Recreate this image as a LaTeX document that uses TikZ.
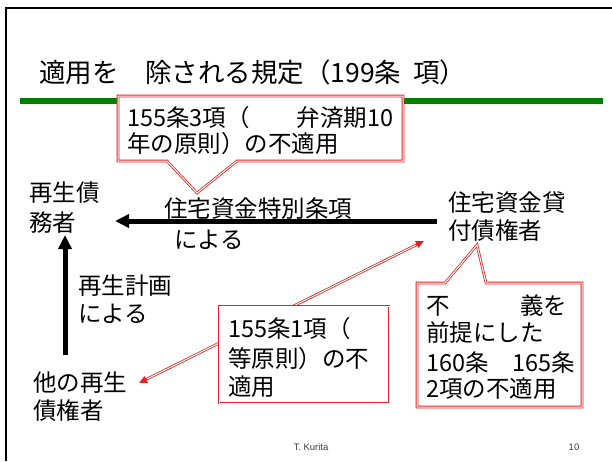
\documentclass[tikz,border=0pt]{standalone}
\usepackage{fontspec}
\setmainfont{Noto Sans CJK JP}
\newfontfamily\latfont{Liberation Sans}
\usetikzlibrary{arrows.meta}
\definecolor{slidegreen}{RGB}{0,128,0}
\definecolor{callred}{RGB}{225,35,35}
\definecolor{footgray}{RGB}{60,60,60}
\begin{document}
\begin{tikzpicture}[x=1pt,y=-1pt,
  txt/.style={anchor=base west, inner sep=0pt, font=\fontsize{23.5}{28}\selectfont},
  ttl/.style={anchor=base west, inner sep=0pt, font=\fontsize{26.5}{30}\selectfont},
  foot/.style={anchor=center, inner sep=0pt, text=footgray, font=\latfont\fontsize{9.5}{11}\selectfont},
  bigarrow/.style={line width=5pt, -{Triangle[length=14pt,width=13pt]}},
  calloutline/.style={draw=callred, line width=0.8pt, double=white, double distance=1pt, fill=white, line join=miter},
  redtips/.style={draw=callred, line width=2.6pt, {Triangle[length=8pt,width=7pt]}-{Triangle[length=8pt,width=7pt]}},
  redinner/.style={draw=white, line width=1pt, shorten <=9pt, shorten >=9pt}
]
\useasboundingbox (0,0) rectangle (612,461);
% frame
\coordinate (fTL) at (6,8);
\coordinate (fTR) at (612,8);
\coordinate (fBL) at (6,461);
\draw[line width=2.5pt] (fTR) -- (fTL) -- (fBL);
% title
\node[ttl] (title) at (39,82) {適用を　除される規定（199条\hspace{0.45em}項）};
% green rule
\coordinate (gL) at (20,101);
\coordinate (gR) at (603,101);
\draw[slidegreen, line width=6pt] (gL) -- (gR);
% callout 1
\coordinate (c1a) at (118,96);
\coordinate (c1b) at (403,96);
\coordinate (c1c) at (403,161);
\coordinate (c1d) at (237,161);
\coordinate (c1tip) at (197,193);
\coordinate (c1e) at (167,161);
\coordinate (c1f) at (118,161);
\draw[calloutline] (c1a) -- (c1b) -- (c1c) -- (c1d) -- (c1tip) -- (c1e) -- (c1f) -- cycle;
\node[txt] (c1l1) at (127,126) {155条3項（　　弁済期10};
\node[txt] (c1l2) at (127,152) {年の原則）の不適用};
% debtor
\node[txt] (deb1) at (29,201) {再生債};
\node[txt] (deb2) at (29,231) {務者};
% creditor (housing loan)
\node[txt] (cred1) at (448,211) {住宅資金貸};
\node[txt] (cred2) at (448,239) {付債権者};
% big horizontal arrow
\coordinate (hStart) at (437,221);
\coordinate (hEnd) at (115,221);
\draw[bigarrow] (hStart) -- (hEnd);
\node[txt] (hl1) at (164,217) {住宅資金特別条項};
\node[txt] (hl2) at (174,248) {による};
% other creditors
\node[txt] (oth1) at (33,391) {他の再生};
\node[txt] (oth2) at (33,419) {債権者};
% vertical arrow
\coordinate (vStart) at (65,355);
\coordinate (vEnd) at (65,235);
\draw[bigarrow] (vStart) -- (vEnd);
\node[txt] (vl1) at (78,294) {再生計画};
\node[txt] (vl2) at (78,322) {による};
% red double-headed line
\coordinate (rA) at (139,383);
\coordinate (rB) at (424,241);
\draw[redtips] (rA) -- (rB);
\draw[redinner] (rA) -- (rB);
% callout 2
\coordinate (c2a) at (219,306);
\coordinate (c2b) at (389,403);
\draw[calloutline] (c2a) rectangle (c2b);
\node[txt] (c2l1) at (228,337) {155条1項（};
\node[txt] (c2l2) at (228,367) {等原則）の不};
\node[txt] (c2l3) at (228,395) {適用};
% callout 3
\coordinate (c3a) at (417,283);
\coordinate (c3b) at (445,283);
\coordinate (c3tip) at (477,245);
\coordinate (c3c) at (486,283);
\coordinate (c3d) at (582,283);
\coordinate (c3e) at (582,407);
\coordinate (c3f) at (417,407);
\draw[calloutline] (c3a) -- (c3b) -- (c3tip) -- (c3c) -- (c3d) -- (c3e) -- (c3f) -- cycle;
\node[txt] (c3l1) at (426,314) {不　　　義を};
\node[txt] (c3l2) at (426,341) {前提にした};
\node[txt] (c3l3) at (426,371) {160条　165条};
\node[txt] (c3l4) at (426,397) {2項の不適用};
% footer
\node[foot] (author) at (311,447) {T. Kurita};
\node[foot] (page) at (574,447) {10};
\end{tikzpicture}
\end{document}
